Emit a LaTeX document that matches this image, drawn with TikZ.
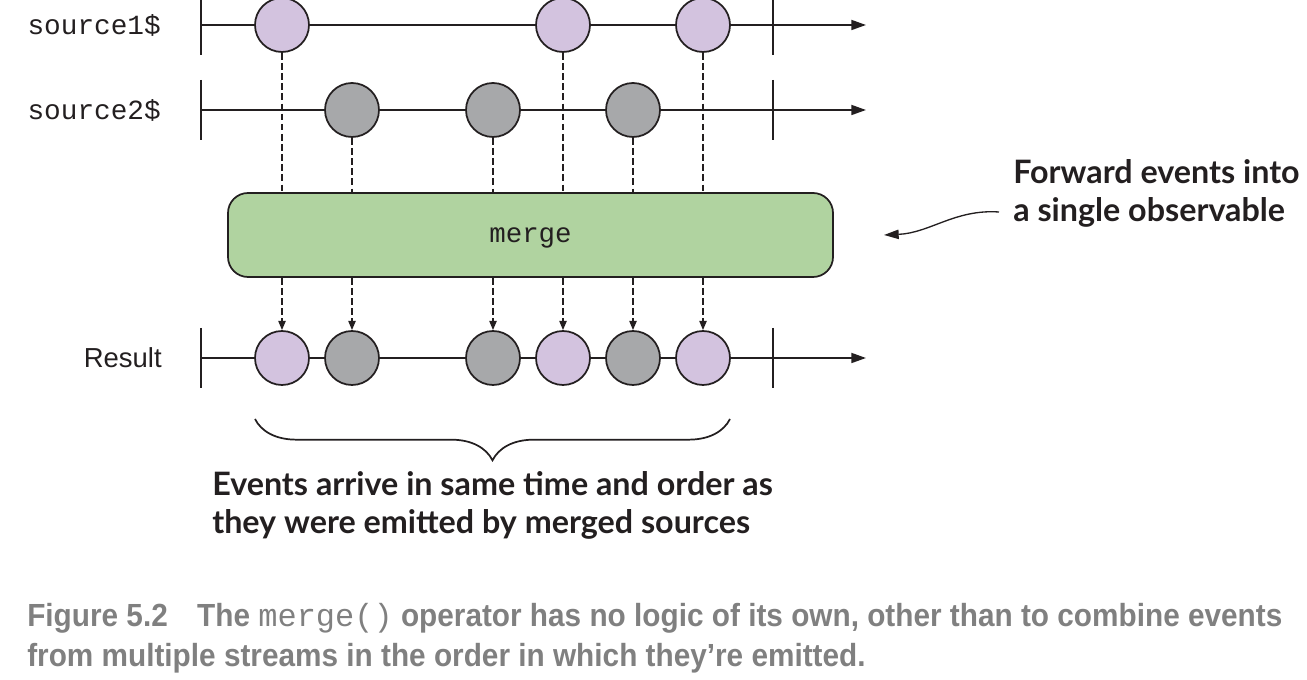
\documentclass[tikz,border=0pt]{standalone}
\usepackage{fontspec}
\setmainfont{Liberation Sans}
\setmonofont{Liberation Mono}
\newfontfamily\notefont{Lato}
\newfontfamily\capfont[FakeStretch=0.93]{Liberation Sans}
\newfontfamily\capmono{Liberation Mono}
\usetikzlibrary{arrows.meta,decorations.pathreplacing}

\definecolor{ink}{RGB}{35,31,32}
\definecolor{evpurple}{RGB}{211,195,223}
\definecolor{evgray}{RGB}{167,168,170}
\definecolor{mergegreen}{RGB}{176,211,160}
\definecolor{capgray}{RGB}{128,128,128}

\tikzset{
  timeline/.style={draw=ink,line width=1.3pt,-{Triangle[length=11pt,width=7.5pt]}},
  tick/.style={draw=ink,line width=1.3pt},
  evA/.style={circle,draw=ink,line width=1.3pt,fill=evpurple,minimum size=40.5pt,inner sep=0pt},
  evB/.style={evA,fill=evgray},
  drop/.style={draw=ink,line width=1.2pt,dash pattern={on 5pt off 2.6pt}},
  droparrow/.style={drop,-{Triangle[length=7pt,width=5.5pt]}},
  note/.style={font=\notefont\bfseries\fontsize{24.2}{28.5}\selectfont,text=ink,align=left,inner sep=0pt},
}

\begin{document}
\begin{tikzpicture}[x=0.75pt,y=0.75pt,yscale=-1]
\useasboundingbox (0,0) rectangle (1307,680);

%Labels of the streams
\node [anchor=east,inner sep=0pt,text=ink,font=\ttfamily\fontsize{20.8}{24}\selectfont] (s1lab) at (161,25) {source1\$};
\node [anchor=east,inner sep=0pt,text=ink,font=\ttfamily\fontsize{20.8}{24}\selectfont] (s2lab) at (161,110) {source2\$};
\node [anchor=east,inner sep=0pt,text=ink,font=\fontsize{20.6}{24}\selectfont] (reslab) at (162,358) {Result};

%Timelines
\coordinate (s1start) at (201,25); \coordinate (s1end) at (866,25);
\coordinate (s2start) at (201,110); \coordinate (s2end) at (866,110);
\coordinate (rstart) at (201,358); \coordinate (rend) at (866,358);
\draw [timeline] (s1start) -- (s1end);
\draw [timeline] (s2start) -- (s2end);
\draw [timeline] (rstart) -- (rend);

%Ticks at begin and end
\draw [tick] (201,-4) -- (201,55);
\draw [tick] (773,-4) -- (773,55);
\draw [tick] (201,80) -- (201,140);
\draw [tick] (773,80) -- (773,140);
\draw [tick] (201,328) -- (201,388);
\draw [tick] (773,328) -- (773,388);

%Events of source1$
\node [evA] (a1) at (282,25) {};
\node [evA] (a2) at (563,25) {};
\node [evA] (a3) at (703,25) {};
%Events of source2$
\node [evB] (b1) at (352,110) {};
\node [evB] (b2) at (493,110) {};
\node [evB] (b3) at (633,110) {};
%Events of the result
\node [evA] (r1) at (282,358) {};
\node [evB] (r2) at (352,358) {};
\node [evB] (r3) at (493,358) {};
\node [evA] (r4) at (563,358) {};
\node [evB] (r5) at (633,358) {};
\node [evA] (r6) at (703,358) {};

%Shape: Rounded Rect
\node [draw=ink,line width=1.3pt,fill=mergegreen,rounded corners=15pt,minimum width=453.75pt,minimum height=63pt,
       text depth=0pt,text=ink,font=\ttfamily\fontsize{20.6}{24}\selectfont] (mrg) at (530.5,235) {merge};

%Dashed drops into merge
\foreach \e in {a1,a2,a3,b1,b2,b3}
  \draw [drop] (\e.south) -- (\e.south |- mrg.north);
%Dashed drops out of merge
\foreach \e in {r1,r2,r3,r4,r5,r6}
  \draw [droparrow] (\e.north |- mrg.south) -- (\e.north);

%Brace under the result
\coordinate (brR) at (730,419);
\coordinate (brL) at (255,419);
\draw [draw=ink,line width=1.3pt,decoration={brace,amplitude=31pt,aspect=0.5},decorate] (brR) -- (brL);

%Notes
\node [note,anchor=north west] (evnote) at (212,471) {Events arrive in same time and order as\\they were emitted by merged sources};
\node [note,anchor=north west] (fwdnote) at (1013,159) {Forward events into\\a single observable};
\coordinate (fwdstart) at (999,212);
\coordinate (fwdtip) at (884,235);
\draw [draw=ink,line width=1pt,-{Triangle[length=11pt,width=7pt]}] (fwdstart) .. controls (955,209) and (930,233) .. (fwdtip);

%Caption
\node [anchor=north west,inner sep=0pt,align=left,text=capgray,font=\capfont\bfseries\fontsize{24}{30}\selectfont] (caption) at (27,603)
  {Figure 5.2\hspace{22pt}The {\capmono\mdseries merge()} operator has no logic of its own, other than to combine events\\from multiple streams in the order in which they’re emitted.};

\end{tikzpicture}
\end{document}
